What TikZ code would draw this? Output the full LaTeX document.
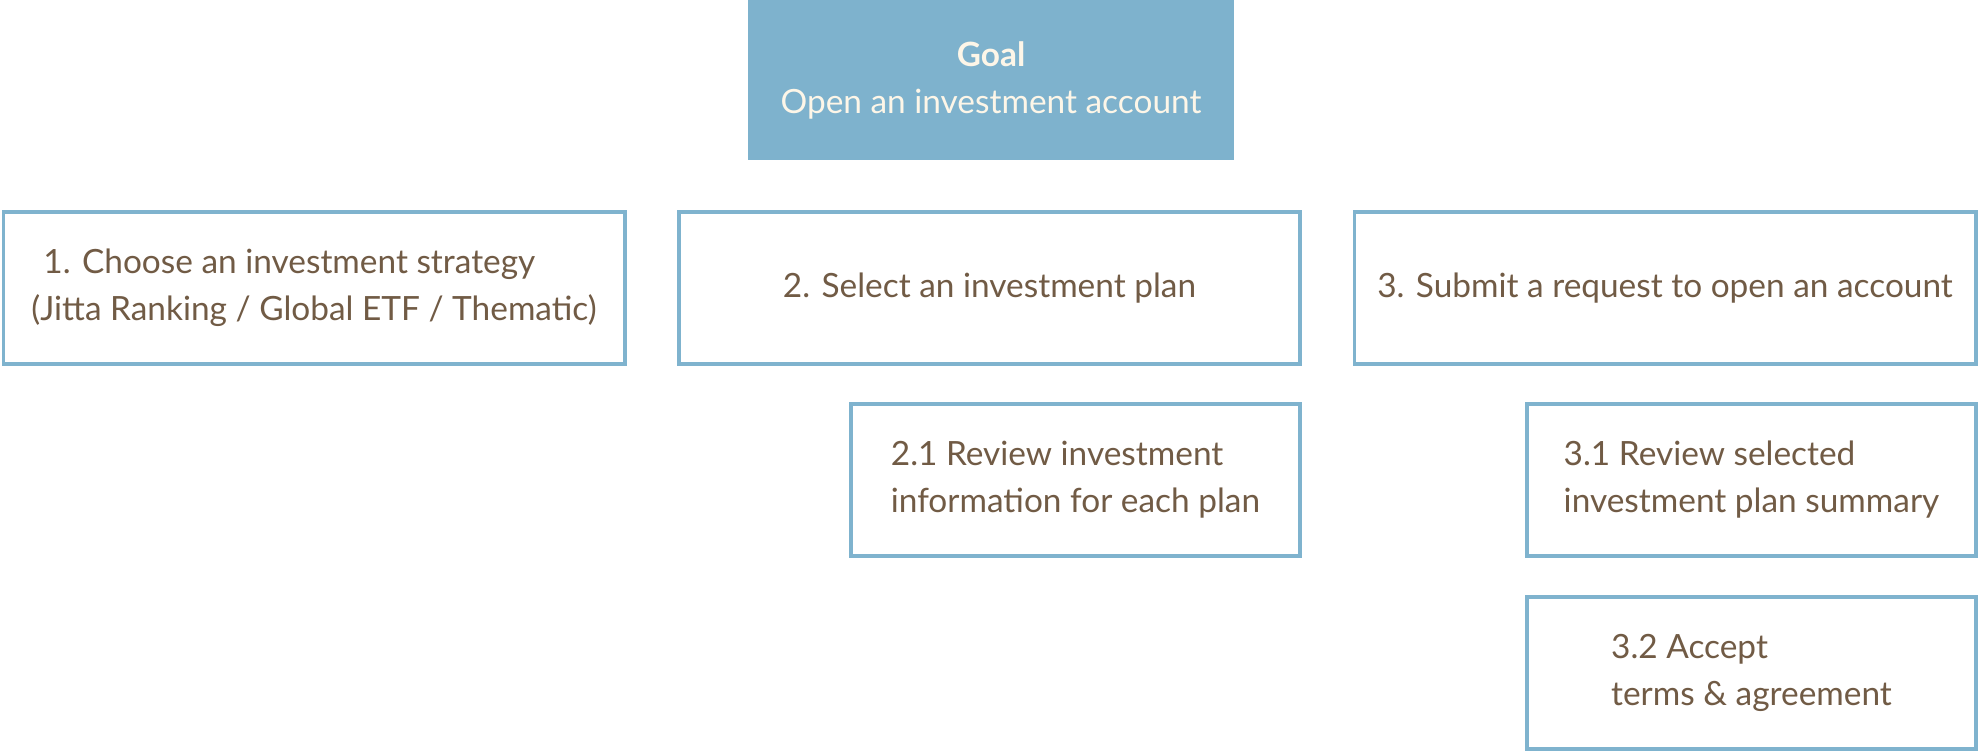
\documentclass[tikz,border=0pt]{standalone}
\usepackage{fontspec}
\setmainfont{Lato}
\usetikzlibrary{positioning}
\definecolor{bordure}{RGB}{127,179,206}
\definecolor{fondbut}{RGB}{126,178,205}
\definecolor{brun}{RGB}{113,91,69}
\definecolor{creme}{RGB}{253,246,232}
\tikzset{
  etape/.style={draw=bordure, line width=1.9pt, fill=white, inner sep=0pt,
    text=brun, align=left, minimum height=76pt, minimum width=#1},
  etape/.default=310.6pt,
  but/.style={fill=fondbut, text=creme, align=center, inner sep=0pt,
    minimum width=243pt, minimum height=80pt},
}

\begin{document}
\begin{tikzpicture}[x=0.5pt, y=-0.5pt, font=\fontsize{16.7}{23.5}\selectfont]
    \useasboundingbox (0,0) rectangle (1980,752);
    % Objectif
    \node[but] (goal) at (991,80) {\textbf{Goal}\\ Open an investment account};
    % Etapes principales
    \node[etape] (s1) at (314,288) {\hspace{6pt}1. Choose an investment strategy\\ (Jitta Ranking / Global ETF / Thematic)};
    \node[etape] (s2) at (989.5,288) {2. Select an investment plan};
    \node[etape] (s3) at (1665,288)  {3. Submit a request to open an account};
    % Sous-etapes
    \node[etape=224.6pt] (s21) at (1075.5,480) {2.1 Review investment\\ information for each plan};
    \node[etape=224.6pt] (s31) at (1751.5,480) {3.1 Review selected\\ investment plan summary};
    \node[etape=224.6pt] (s32) at (1751.5,673) {3.2 Accept\\ terms \& agreement};
\end{tikzpicture}
\end{document}
